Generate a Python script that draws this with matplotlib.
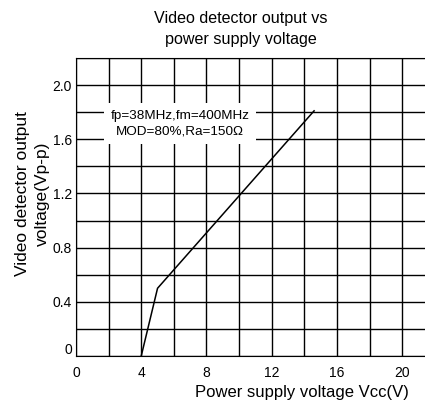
import matplotlib.pyplot as plt
from matplotlib.transforms import ScaledTranslation

plt.rcParams['font.family'] = ['Liberation Sans', 'DejaVu Sans']

vcc = [4, 5, 14.6]
vout = [0, 0.5, 1.81]
xticks = [0, 4, 8, 12, 16, 20]
yticks = [0, 0.4, 0.8, 1.2, 1.6, 2.0]
ytick_labels = ['0', '0.4', '0.8', '1.2', '1.6', '2.0']

fig = plt.figure(figsize=(4.25, 4.05), dpi=100)
ax = fig.add_axes([76 / 425, 49 / 405, 349 / 425, 298 / 405])

ax.set_xlim(0, 21.4)
ax.set_ylim(0, 2.2)
for x in range(0, 22, 2):
    ax.axvline(x, color='black', lw=1.0, zorder=1)
for i in range(12):
    ax.axhline(i * 0.2, color='black', lw=1.0, zorder=1)

ax.plot(vcc, vout, color='black', lw=1.1, zorder=3)

ax.set_xticks(xticks)
ax.set_yticks(yticks)
ax.set_yticklabels(ytick_labels)
ax.tick_params(length=0, labelsize=10)
ax.tick_params(axis='y', pad=3)
ax.tick_params(axis='x', pad=7)
ax.spines['right'].set_visible(False)

# the "0" label sits a little above the axis in the original
lbl0 = ax.get_yticklabels()[0]
lbl0.set_transform(lbl0.get_transform() + ScaledTranslation(0, 8 / 100, fig.dpi_scale_trans))

ax.text(6.38, 1.715, 'fp=38MHz,fm=400MHz\nMOD=80%,Ra=150Ω', ha='center', va='center',
        fontsize=9.7, linespacing=1.3, zorder=2,
        bbox=dict(facecolor='white', edgecolor='none', pad=5))

fig.text(0.567, 0.955, 'Video detector output vs', ha='center', va='center', fontsize=11.6)
fig.text(0.567, 0.902, 'power supply voltage', ha='center', va='center', fontsize=11.6)
fig.text(0.71, 0.03, 'Power supply voltage Vcc(V)', ha='center', va='center', fontsize=12)
fig.text(0.053, 0.521, 'Video detector output', ha='center', va='center', rotation=90, fontsize=12.5)
fig.text(0.1, 0.521, 'voltage(Vp-p)', ha='center', va='center', rotation=90, fontsize=12.5)

fig.savefig('out.png', dpi=100)
